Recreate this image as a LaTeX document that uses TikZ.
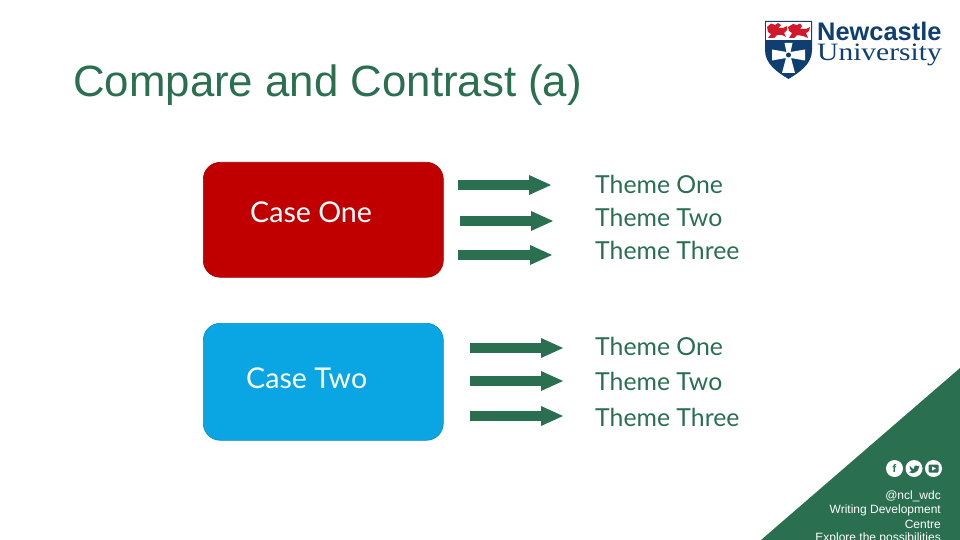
\documentclass[tikz,border=0pt]{standalone}
\usepackage{fontspec}
\setmainfont{Liberation Sans}
\newfontfamily\casefont{Lato}
\newfontfamily\logoserif{Liberation Serif}
\usetikzlibrary{arrows.meta}
\definecolor{ncl}{HTML}{2A6F50}
\definecolor{caseone}{HTML}{C00000}
\definecolor{casetwo}{HTML}{0AA5E3}
\definecolor{navy}{HTML}{0F3F70}
\definecolor{lionred}{HTML}{D3182B}
\tikzset{
  casebox/.style={draw=#1!85!black,line width=.6pt,fill=#1,rounded corners=17pt,minimum width=240pt,anchor=north west,inner sep=0pt},
  caselabel/.style={font=\casefont\fontsize{28.6}{28.6}\selectfont,text=white,anchor=west,inner sep=0pt},
  theme/.style={font=\casefont\fontsize{24.8}{24.8}\selectfont,text=ncl,anchor=west,inner sep=0pt},
  blockarrow/.style={draw=ncl,line width=10.5pt,-{Triangle[length=22pt,width=20pt,fill=ncl,line width=0pt]}},
  footer/.style={font=\fontsize{12}{12}\selectfont,text=white,anchor=east,inner sep=0pt},
  social/.style={circle,fill=white,minimum size=17pt,inner sep=0pt,text=ncl,font=\bfseries\fontsize{11}{11}\selectfont},
}
\begin{document}
\begin{tikzpicture}[x=1pt,y=-1pt]
\useasboundingbox (0,0) rectangle (960,540);
\clip (0,0) rectangle (960,540);
% corner triangle
\fill[ncl] (960,368) -- (960,540) -- (761,540) -- cycle;
% title
\node[font=\fontsize{43.8}{43.8}\selectfont,text=ncl,anchor=west,inner sep=0pt] (title) at (73,85) {Compare and Contrast (a)};
% cases
\node[casebox=caseone,minimum height=115pt] (c1) at (203,162) {};
\node[casebox=casetwo,minimum height=117pt] (c2) at (203,323) {};
\node[caselabel] (c1t) at (250,212) {Case One};
\node[caselabel] (c2t) at (246,378) {Case Two};
% themes
\node[theme] (t11) at (595,184) {Theme One};
\node[theme] (t12) at (595,217) {Theme Two};
\node[theme] (t13) at (595,250) {Theme Three};
\node[theme] (t21) at (595,346.5) {Theme One};
\node[theme] (t22) at (595,381) {Theme Two};
\node[theme] (t23) at (595,417) {Theme Three};
% arrows
\coordinate (a1s) at (458,185); \coordinate (a1e) at (551,185);
\coordinate (a2s) at (460,221); \coordinate (a2e) at (553,221);
\coordinate (a3s) at (458,255); \coordinate (a3e) at (552,255);
\coordinate (b1s) at (470,348); \coordinate (b1e) at (563,348);
\coordinate (b2s) at (470,381); \coordinate (b2e) at (563,381);
\coordinate (b3s) at (470,416); \coordinate (b3e) at (563,416);
\draw[blockarrow] (a1s) -- (a1e);
\draw[blockarrow] (a2s) -- (a2e);
\draw[blockarrow] (a3s) -- (a3e);
\draw[blockarrow] (b1s) -- (b1e);
\draw[blockarrow] (b2s) -- (b2e);
\draw[blockarrow] (b3s) -- (b3e);
% footer
\node[social] (f) at (894.5,468.5) {f};
\node[social] (tw) at (914,468.5) {};
\node[social] (yt) at (933.5,468.5) {};
\fill[ncl] (909.5,465.5) .. controls (911,468) and (913,469) .. (914,469) .. controls (913.5,465.5) and (916.5,464.3) .. (918.5,466) -- (919.5,465.6) -- (918.8,467.3) .. controls (918.8,471.5) and (913,475) .. (909,472.2) .. controls (910.5,472.2) and (911.2,471.8) .. (911.8,471) .. controls (910.3,470.3) and (909.5,468) .. cycle;
\fill[ncl,rounded corners=1pt] (928.5,464.5) rectangle (938.5,472.5);
\fill[white] (932,466.5) -- (936,468.5) -- (932,470.5) -- cycle;
\node[footer] (h) at (941,496.5) {@ncl\_wdc};
\node[footer] (w) at (941,510) {Writing Development};
\node[footer] (ce) at (941,524) {Centre};
\node[footer] (ex) at (941,538) {Explore the possibilities};
% logo shield
\fill[navy] (765,21) -- (812,21) -- (812,50) .. controls (812,64) and (800,72) .. (788.5,79) .. controls (777,72) and (765,64) .. (765,50) -- cycle;
\fill[white] (766.2,22.2) rectangle (810.8,40);
% lions
\fill[lionred] (767,27) -- (771,23.5) -- (775,25) -- (778,23) -- (781,25) -- (778,28) -- (783,28) -- (787,26) -- (787,30) -- (784,33) -- (786,37) -- (782,35) -- (777,35) -- (774,38) -- (768,38) -- (771,34) -- (768,32) -- cycle;
\fill[lionred] (788,27) -- (793,24) -- (797,25) -- (800,23.5) -- (802,26) -- (800,29) -- (806,29) -- (810,27) -- (809,31) -- (806,33) -- (808,38) -- (803,36) -- (797,35) -- (794,38) -- (789,38) -- (792,33) -- (789,31) -- cycle;
% cross
\fill[white] (784.5,43) -- (792.5,43) -- (790.5,52) -- (805,49.5) -- (805,60.5) -- (791,58) -- (795,73) -- (782,73) -- (786,58) -- (772,60.5) -- (772,49.5) -- (786.5,52) -- cycle;
\fill[navy] (788.5,55) circle (2.5pt);
\node[font=\bfseries\fontsize{25.4}{25.4}\selectfont,text=navy,anchor=west,inner sep=0pt] (l1) at (817,31) {Newcastle};
\node[font=\logoserif\fontsize{25}{25}\selectfont,text=navy,anchor=west,inner sep=0pt] (l2) at (817,54.5) {\pgftransformxscale{1}\addfontfeature{FakeStretch=1.18}University};
\end{tikzpicture}
\end{document}
